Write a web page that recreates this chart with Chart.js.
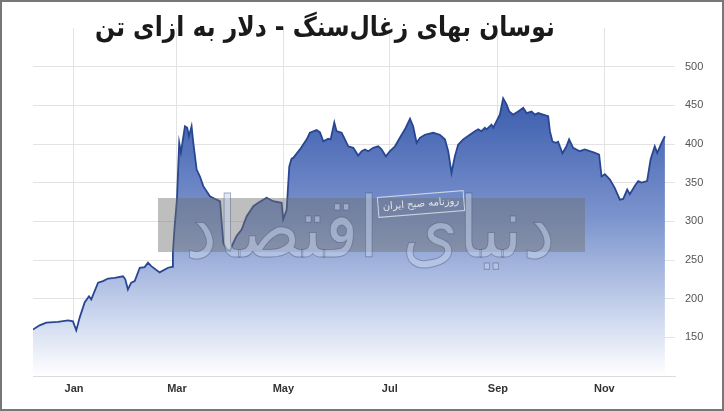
<!DOCTYPE html>
<html>
<head>
<meta charset="utf-8">
<script src="https://cdn.jsdelivr.net/npm/chart.js@4"></script>
<style>
  html, body { margin: 0; padding: 0; background: #fff; }
  #wrap { position: relative; width: 724px; height: 411px; }
  #frame { position: absolute; left: 0; top: 0; width: 724px; height: 411px; box-sizing: border-box; border: 2px solid #777; pointer-events: none; }
  #title { position: absolute; left: 95px; top: 11px; direction: rtl; transform-origin: 0 0;
           font-family: 'DejaVu Sans', sans-serif; font-weight: bold; font-size: 27px; line-height: 32px; color: #1a1a1a; white-space: nowrap; }
</style>
</head>
<body>
<div id="wrap">
  <canvas id="coal" width="724" height="411"></canvas>
  <span id="title">نوسان بهای زغال‌سنگ - دلار به ازای تن</span>
  <div id="frame"></div>
</div>
<script>
// days counted from 1 Jan 2022 (negative = Dec 2021)
const days = [
  -23.5, -19.7, -15.9, -9.2, -3.4, -0.6, 1.3, 3.3, 6.1, 8.6, 9.9, 13.8, 16.6, 19.5, 23.3, 28.1, 29.4, 30.9,
  32.8, 34.8, 37.7, 40.5, 42.4, 44.3, 49.1, 53.9, 56.2, 56.7, 57.7, 59, 60.3, 61.3, 63.6, 64.9, 65.9, 67.4,
  68.4, 70.3, 72.2, 74.1, 77.9, 81.8, 83.7, 85.6, 87.5, 89.4, 91.3, 93.2, 96.1, 99, 102.8, 105.6, 108.5,
  110.4, 114.2, 119, 119.9, 121.9, 123.4, 124.7, 125.7, 129.5, 133.4, 135.2, 139.1, 141, 142.9, 145.7,
  147.1, 149.2, 150.5, 153.4, 155.3, 157.2, 160.1, 162.9, 164.9, 166.8, 168.7, 171.5, 174.4, 176.3, 178.8,
  181.1, 184, 186.8, 189.7, 192.6, 194.4, 196.4, 198.3, 201.1, 205.9, 209.7, 212.6, 214.5, 216.4, 218.3,
  220.2, 223.1, 226.9, 229.8, 231.7, 233.6, 235.5, 236.5, 238.4, 239.3, 240.3, 242.2, 244.1, 246, 248,
  249.5, 251.8, 254.6, 257.5, 259.4, 262.3, 264.2, 266.1, 268.9, 271.8, 272.8, 274.3, 276.2, 277.5, 280,
  282.3, 283.8, 286.1, 289.9, 292.8, 295.7, 298.6, 301, 302.4, 304.3, 307.2, 310, 312.9, 314.8, 317.1,
  318.6, 321.5, 323.4, 325.3, 328.5, 330.5, 332.9, 334.3, 336.8, 338.7
];
// USD per tonne
const prices = [
  160, 165.5, 169, 170, 172, 170.7, 159, 175.8, 195, 203, 199, 220.7, 222.7, 226, 227, 229, 225, 212,
  220.7, 222.7, 240, 240.8, 246.5, 242, 234, 240, 241, 260, 294, 328, 401.5, 389, 423, 421, 410, 423,
  401.5, 367, 358, 345.5, 332.5, 328, 326, 272, 263.7, 261.5, 272, 281, 289.5, 306.7, 319.6, 324, 328,
  330.5, 326, 324, 302.5, 315, 371, 381, 382, 393, 406, 414.5, 418, 415, 403.6, 406.7,
  406, 428, 416.6, 414.5, 406, 397, 395, 385, 390.7, 393, 390.7, 395, 397, 393, 384,
  390.7, 397, 408, 419, 432.6, 423, 401.5, 408, 412, 414.5, 412, 406, 390.7, 362.8, 384,
  399, 406, 412, 416.6, 419, 416.6, 421, 419, 423, 425, 421, 429.5, 438, 459, 451,
  442, 438, 442, 446.8, 440, 442, 438, 440, 438, 436, 416.6, 403, 401.5, 403, 388,
  397, 406, 395, 390.7, 393, 390.7, 388.6, 386.4, 358, 361, 354, 343, 328, 329, 341,
  335, 346, 352, 350, 352, 380, 397, 388.6, 401.5, 410
];
const monthTicks = [0, 59, 120, 181, 243, 304];
const monthLabels = ['Jan', 'Mar', 'May', 'Jul', 'Sep', 'Nov'];
const priceTicks = [150, 200, 250, 300, 350, 400, 450, 500];

// squeeze the title into the same width as the original headline
const title = document.getElementById('title');
title.style.transform = 'scaleX(' + (460 / title.offsetWidth) + ')';

const points = days.map((d, i) => ({ x: d, y: prices[i] }));

function areaGradient(context) {
  const area = context.chart.chartArea;
  if (!area) return 'rgba(80,110,180,0.5)';
  const g = context.chart.ctx.createLinearGradient(0, area.top, 0, area.bottom);
  g.addColorStop(0, 'rgb(55,86,165)');
  g.addColorStop(0.25, 'rgb(68,100,178)');
  g.addColorStop(0.55, 'rgb(125,149,206)');
  g.addColorStop(0.8, 'rgb(196,208,235)');
  g.addColorStop(1, 'rgb(255,255,255)');
  return g;
}

// newspaper watermark drawn over the plot
const watermark = {
  id: 'watermark',
  afterDatasetsDraw(chart) {
    const c = chart.ctx;
    c.save();
    c.fillStyle = 'rgba(110,110,110,0.45)';
    c.fillRect(158, 198, 427, 54);

    c.font = '84px "DejaVu Sans"';
    c.direction = 'rtl';
    c.textAlign = 'center';
    c.textBaseline = 'alphabetic';
    const txt = 'دنیای اقتصاد';
    const w = c.measureText(txt).width;
    c.translate(370, 257);
    c.scale(370 / w, 1);
    c.fillStyle = 'rgba(200,214,240,0.5)';
    c.fillText(txt, 0, 0);
    c.lineWidth = 1;
    c.strokeStyle = 'rgba(80,90,120,0.5)';
    c.strokeText(txt, 0, 0);
    c.restore();

    c.save();
    c.translate(421, 204);
    c.rotate(-0.08);
    c.strokeStyle = 'rgba(225,230,240,0.8)';
    c.lineWidth = 1;
    c.strokeRect(-43, -10, 86, 20);
    c.font = '10px "DejaVu Sans"';
    c.direction = 'rtl';
    c.textAlign = 'center';
    c.textBaseline = 'middle';
    c.fillStyle = 'rgba(235,238,245,0.9)';
    c.fillText('روزنامه صبح ایران', 0, 0);
    c.restore();
  }
};

new Chart(document.getElementById('coal'), {
  type: 'line',
  data: {
    datasets: [{
      data: points,
      borderColor: 'rgb(40,70,145)',
      borderWidth: 1.8,
      backgroundColor: areaGradient,
      fill: 'start',
      pointRadius: 0,
      tension: 0
    }]
  },
  options: {
    responsive: false,
    animation: false,
    devicePixelRatio: 1,
    layout: { padding: { left: 33, top: 28, right: 0, bottom: 0 } },
    plugins: { legend: { display: false }, tooltip: { enabled: false } },
    scales: {
      x: {
        type: 'linear',
        min: -23.5,
        max: 344.5,
        afterBuildTicks: s => { s.ticks = monthTicks.map(v => ({ value: v })); },
        afterFit: s => { s.height = 35; },
        ticks: {
          padding: 6,
          color: '#333',
          font: { family: 'Liberation Sans', size: 11, weight: 'bold' },
          callback: v => monthLabels[monthTicks.indexOf(v)]
        },
        grid: { color: '#e3e3e3', drawTicks: false },
        border: { display: true, color: '#dcdcdc' }
      },
      y: {
        position: 'right',
        min: 100,
        max: 550,
        afterBuildTicks: s => { s.ticks = [100].concat(priceTicks).map(v => ({ value: v })); },
        afterFit: s => { s.width = 49; },
        ticks: {
          padding: 10,
          color: '#555',
          font: { family: 'Liberation Sans', size: 11 },
          callback: v => priceTicks.includes(v) ? String(v) : ''
        },
        grid: { color: '#e3e3e3', drawTicks: false },
        border: { display: false }
      }
    }
  },
  plugins: [watermark]
});
</script>
</body>
</html>
